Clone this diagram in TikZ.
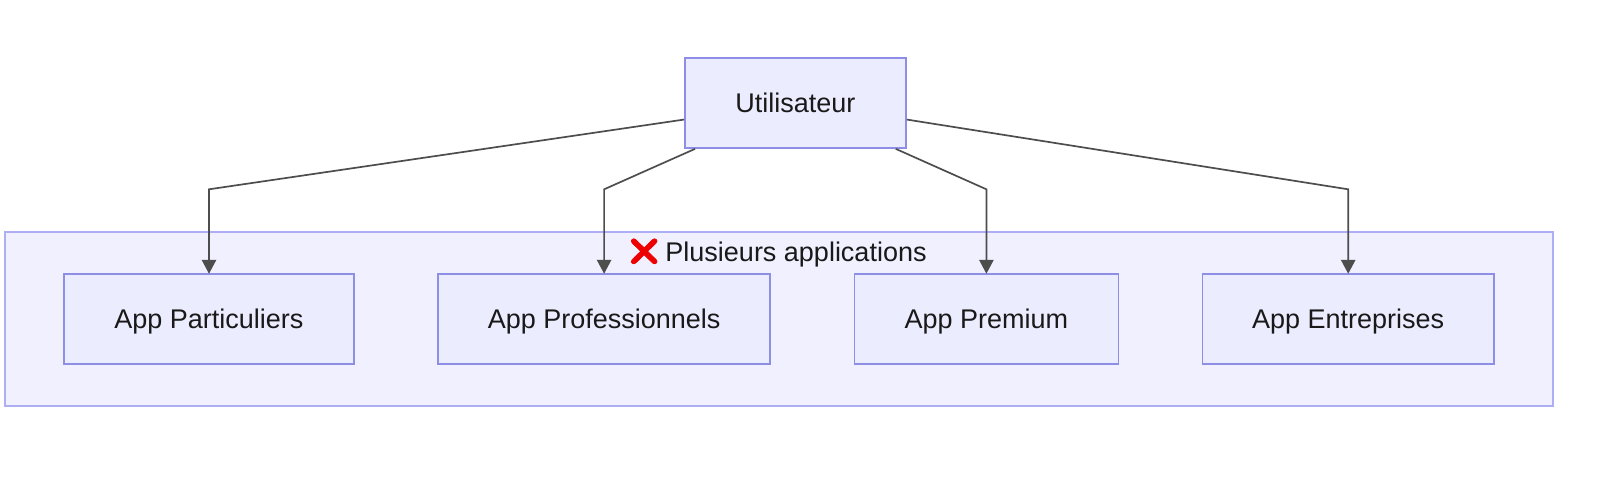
\documentclass[tikz,border=0pt]{standalone}
\usepackage{fontspec}
\setmainfont{Liberation Sans}
\newfontfamily\emojifont[FakeBold=2.4]{Noto Emoji}
\usetikzlibrary{arrows.meta}
\definecolor{nodefill}{HTML}{ECECFF}
\definecolor{nodeline}{HTML}{8E8EE6}
\definecolor{clusterfill}{HTML}{F0F0FF}
\definecolor{clusterline}{HTML}{AEAEF4}
\definecolor{edgeline}{HTML}{4D4D4D}
\definecolor{crossred}{HTML}{EE0000}
\tikzset{
  x=0.5pt,y=-0.5pt,
  labelfont/.style={font=\fontsize{13.5}{16}\selectfont,text=black!90},
  appbox/.style={draw=nodeline,fill=nodefill,line width=0.85pt,inner sep=0pt,labelfont,text height=9.4pt,text depth=0pt,minimum height=45pt},
  cluster/.style={draw=clusterline,fill=clusterfill,line width=0.85pt,inner sep=0pt},
  edge/.style={draw=edgeline,line width=0.85pt,shorten >=-0.3pt,-{Triangle[length=7pt,width=7.2pt]}}
}
\begin{document}
\begin{tikzpicture}
\useasboundingbox (0,0) rectangle (1600,478);
\node[cluster,minimum width=774.2pt,minimum height=87pt] (c) at (779,319) {};
\node[appbox,minimum width=110.5pt] (u) at (795.4,103) {Utilisateur};
\node[appbox,minimum width=145.2pt] (a) at (209,319) {App Particuliers};
\node[appbox,minimum width=166.2pt] (b) at (604.1,319) {App Professionnels};
\node[appbox,minimum width=132pt] (d) at (986.4,319) {App Premium};
\node[appbox,minimum width=145.8pt] (e) at (1348.2,319) {App Entreprises};
\node[labelfont,anchor=base east,inner sep=0pt] (t) at (927,261.6) {{\emojifont\fontsize{13}{16}\selectfont\color{crossred}\raisebox{0.7pt}{❌}}\hspace{2.4pt}Plusieurs applications};
\coordinate (k) at (0,189.3);
\draw[edge] ([yshift=-31.2pt]u.north west) -- (a.north |- k) -- (a.north);
\draw[edge] ([xshift=5.5pt]u.south west) -- (b.north |- k) -- (b.north);
\draw[edge] ([xshift=-5.5pt]u.south east) -- (d.north |- k) -- (d.north);
\draw[edge] ([yshift=-31.2pt]u.north east) -- (e.north |- k) -- (e.north);
\end{tikzpicture}
\end{document}
